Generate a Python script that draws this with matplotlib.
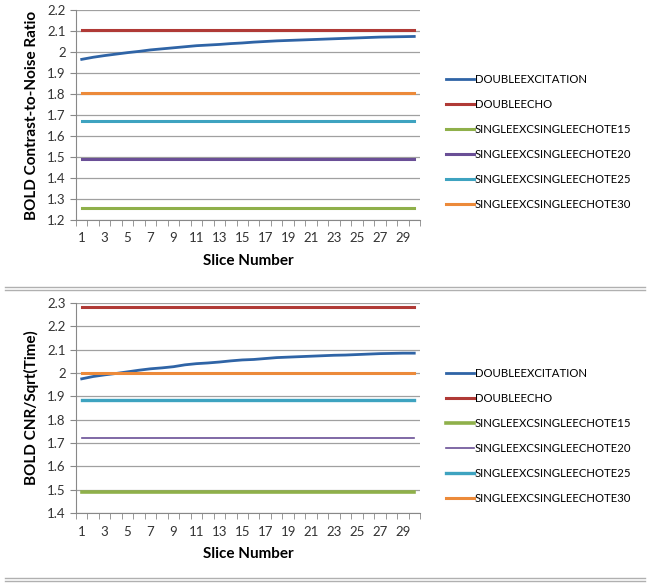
import numpy as np
import matplotlib
matplotlib.use("Agg")
import matplotlib.pyplot as plt
from matplotlib.lines import Line2D

plt.rcParams['font.family'] = ['Lato', 'DejaVu Sans']

slices = np.arange(1, 31)
series_names = ['DOUBLEEXCITATION', 'DOUBLEECHO', 'SINGLEEXCSINGLEECHOTE15',
                'SINGLEEXCSINGLEECHOTE20', 'SINGLEEXCSINGLEECHOTE25',
                'SINGLEEXCSINGLEECHOTE30']
colors = ['#2f64a6', '#b03a36', '#8fb04a', '#6a4f96', '#3ea3c0', '#ec8a3a']

# top chart: CNR
cnr_dblexc = [1.965, 1.975, 1.983, 1.99, 1.997, 2.003, 2.01, 2.015, 2.02, 2.025,
              2.03, 2.033, 2.036, 2.04, 2.043, 2.047, 2.05, 2.053, 2.055, 2.057,
              2.059, 2.061, 2.063, 2.065, 2.067, 2.069, 2.071, 2.072, 2.073, 2.074]
cnr_const = [2.105, 1.255, 1.49, 1.67, 1.805]

# bottom chart: CNR/sqrt(time)
cnrt_dblexc = [1.975, 1.985, 1.992, 1.998, 2.005, 2.012, 2.018, 2.022, 2.027, 2.035,
               2.04, 2.043, 2.047, 2.052, 2.056, 2.058, 2.062, 2.066, 2.068, 2.07,
               2.072, 2.074, 2.076, 2.077, 2.079, 2.081, 2.083, 2.084, 2.085, 2.085]
cnrt_const = [2.285, 1.49, 1.72, 1.885, 2.0]

W, H = 649, 588
fig = plt.figure(figsize=(W / 100, H / 100), dpi=100)


def px_axes(x0, y0, x1, y1):
    # pixel box (top-left origin) -> figure fraction
    return fig.add_axes([x0 / W, 1 - y1 / H, (x1 - x0) / W, (y1 - y0) / H])


def draw_panel(ax, dblexc, consts, ylim, ylabel, legend_top, widths):
    ax.plot(slices, dblexc, color=colors[0], lw=2.0, label=series_names[0])
    for i, v in enumerate(consts):
        ax.plot(slices, [v] * len(slices), color=colors[i + 1], lw=widths[i],
                label=series_names[i + 1])
    ax.set_xlim(0.5, 30.5)
    ax.set_ylim(*ylim)
    ax.set_yticks(np.round(np.arange(ylim[0], ylim[1] + 0.01, 0.1), 1))
    ax.set_yticklabels(['%g' % t for t in ax.get_yticks()])
    ax.set_xticks(slices[::2])
    ax.set_xticks(np.arange(0.5, 31, 1), minor=True)
    ax.tick_params(axis='x', which='major', length=0, pad=9, labelsize=9.5,
                   colors='#333333')
    ax.tick_params(axis='x', which='minor', length=4, direction='out', color='#888888')
    ax.tick_params(axis='y', length=4, direction='out', color='#888888',
                   labelsize=9.5, labelcolor='#333333')
    ax.grid(axis='y', color='#a0a0a0', lw=0.9)
    ax.set_axisbelow(True)
    for s in ['top', 'right']:
        ax.spines[s].set_visible(False)
    for s in ['left', 'bottom']:
        ax.spines[s].set_color('#888888')
    ax.set_xlabel('Slice Number', fontsize=11, fontweight='bold', labelpad=7)
    ax.set_ylabel(ylabel, fontsize=11, fontweight='bold', labelpad=6)
    ax.legend(loc='upper left', bbox_to_anchor=(440 / W, 1 - legend_top / H),
              bbox_transform=fig.transFigure, frameon=False, fontsize=8.2,
              handlelength=2.45, handletextpad=0.1, labelspacing=1.24,
              borderpad=0)


ax1 = px_axes(76, 10, 420, 220)
draw_panel(ax1, cnr_dblexc, cnr_const, (1.2, 2.2), 'BOLD Contrast-to-Noise Ratio',
           68, [2.2, 2.2, 2.2, 2.2, 2.2])

ax2 = px_axes(76, 303, 420, 513)
draw_panel(ax2, cnrt_dblexc, cnrt_const, (1.4, 2.3), 'BOLD CNR/Sqrt(Time)',
           362, [2.2, 2.6, 1.2, 2.4, 2.2])

# separator rules
for y in (286.5, 289.5, 577.5, 580.5):
    fig.add_artist(Line2D([5 / W, 645 / W], [1 - y / H, 1 - y / H],
                          color='#b0b0b0', lw=1.0))

fig.savefig('out.png', dpi=100)
